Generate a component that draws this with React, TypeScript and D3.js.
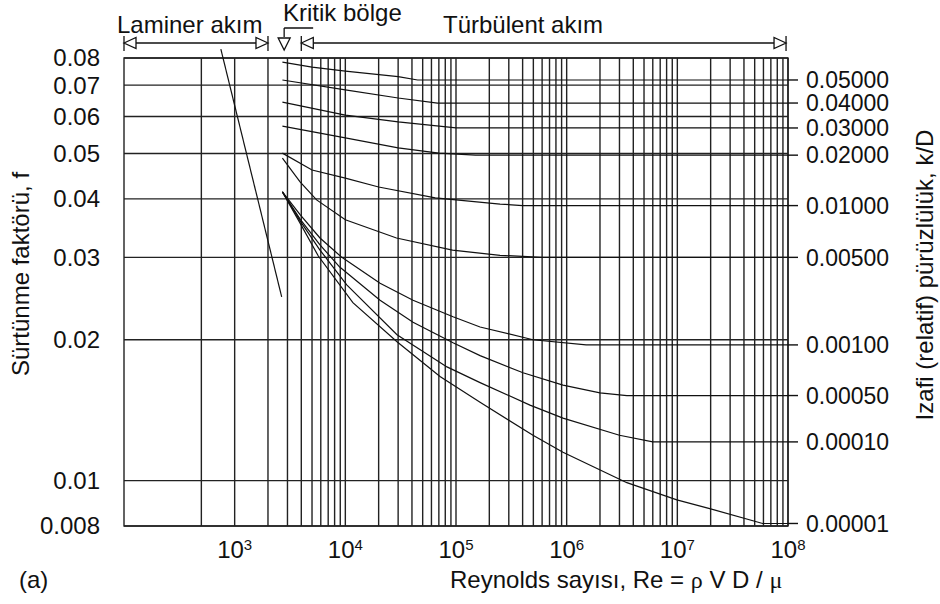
import React from "react";
import * as d3 from "d3";

// friction factor axis (left)
const fTicks = [0.08, 0.07, 0.06, 0.05, 0.04, 0.03, 0.02, 0.01, 0.008];
const fTickLabels = ["0.08", "0.07", "0.06", "0.05", "0.04", "0.03", "0.02", "0.01", "0.008"];
// Reynolds axis, labelled powers of ten
const reExponents = [3, 4, 5, 6, 7, 8];

// relative roughness curves [Re, f]
const kdLabels = ["0.05000", "0.04000", "0.03000", "0.02000", "0.01000", "0.00500", "0.00100", "0.00050", "0.00010", "0.00001"];
const kd05000 = [[2700, 0.0784], [5000, 0.0765], [10000, 0.075], [30000, 0.073], [45000, 0.0718], [1e8, 0.0718]];
const kd04000 = [[2700, 0.0718], [10000, 0.0684], [30000, 0.0657], [68000, 0.0641], [1e8, 0.0641]];
const kd03000 = [[2700, 0.0644], [10000, 0.0604], [30000, 0.0584], [100000, 0.0567], [1e8, 0.0567]];
const kd02000 = [[2700, 0.0572], [10000, 0.054], [30000, 0.0514], [70000, 0.0501], [150000, 0.0496], [1e8, 0.0496]];
const kd01000 = [[2700, 0.0501], [5000, 0.0461], [10000, 0.0443], [20000, 0.0424], [65000, 0.0402], [250000, 0.039], [400000, 0.0387], [1e8, 0.0387]];
const kd00500 = [[2700, 0.0489], [3900, 0.0435], [5500, 0.0398], [10000, 0.0361], [29000, 0.033], [93000, 0.0311], [250000, 0.0303], [600000, 0.03], [1e8, 0.03]];
const kd00100 = [[2700, 0.0414], [3900, 0.037], [5900, 0.033], [9300, 0.03], [20600, 0.0264], [40900, 0.0243], [94000, 0.0224], [165000, 0.0213], [496000, 0.02], [1500000, 0.0195], [1e8, 0.0195]];
const kd00050 = [[2700, 0.0414], [3900, 0.0362], [5900, 0.0319], [8900, 0.0286], [20600, 0.0243], [40900, 0.0218], [94000, 0.0197], [165000, 0.0185], [403000, 0.017], [926000, 0.016], [2000000, 0.0154], [3500000, 0.0152], [1e8, 0.0152]];
const kd00010 = [[2700, 0.0414], [3900, 0.0359], [5900, 0.0311], [10300, 0.0262], [29300, 0.0205], [82900, 0.0175], [165000, 0.0162], [466000, 0.0145], [926000, 0.0136], [3000000, 0.0125], [6000000, 0.0121], [1e8, 0.0121]];
const kd00001 = [[2700, 0.0414], [3900, 0.0355], [5700, 0.0302], [11700, 0.024], [29300, 0.0198], [71700, 0.0167], [165000, 0.0147], [496000, 0.0125], [926000, 0.0115], [3500000, 0.0099], [9900000, 0.0091], [20000000, 0.0087], [59000000, 0.0081], [1e8, 0.0081]];
const roughCurves = [kd05000, kd04000, kd03000, kd02000, kd01000, kd00500, kd00100, kd00050, kd00010, kd00001];

// laminar flow line f = 64/Re, end points
const laminar = [[750, 0.0836], [2660, 0.0247]];

// flow regimes along the top
const laminarRange = [100, 2000];
const criticalRe = 2800;
const turbulentRange = [4000, 9.6e7];

const font = "'Liberation Sans', Arial, sans-serif";
const ink = "#111";

export default function App() {
  const x = d3.scaleLog().domain([100, 1e8]).range([124, 788]);
  const y = d3.scaleLog().domain([0.008, 0.08]).range([526, 58]);
  const line = d3.line<number[]>().x(d => x(d[0])).y(d => y(d[1]));
  const vGrid = x.ticks(10).filter(t => t >= 1000 || t === 500);
  const [x0, x1] = x.range();
  const [yb, yt] = y.range();

  const leftTri = (xt: number, yc: number) => `M${xt},${yc}L${xt + 12},${yc - 5.5}L${xt + 12},${yc + 5.5}Z`;
  const rightTri = (xt: number, yc: number) => `M${xt},${yc}L${xt - 12},${yc - 5.5}L${xt - 12},${yc + 5.5}Z`;

  const bracket = (a: number, b: number, key: string) => {
    const xa = x(a), xb = x(b), yc = 43;
    return (
      <g key={key} stroke={ink} strokeWidth={1.3} fill="white">
        <line x1={xa} x2={xa} y1={36} y2={51} />
        <line x1={xb} x2={xb} y1={36} y2={51} />
        <line x1={xa + 12} x2={xb - 12} y1={yc} y2={yc} />
        <path d={leftTri(xa, yc)} />
        <path d={rightTri(xb, yc)} />
      </g>
    );
  };

  const xc = x(criticalRe);

  return (
    <svg width={940} height={604} style={{ position: "absolute", left: 0, top: 0, background: "white" }} fontFamily={font}>
      {/* grid and frame */}
      <g stroke="#222" strokeWidth={1.4}>
        {vGrid.map(t => <line key={t} x1={x(t)} x2={x(t)} y1={yt} y2={yb} />)}
        {fTicks.map(t => <line key={t} x1={x0} x2={x1} y1={y(t)} y2={y(t)} />)}
        <rect x={x0} y={yt} width={x1 - x0} height={yb - yt} fill="none" />
      </g>

      {/* laminar line */}
      <path d={line(laminar) || ""} fill="none" stroke={ink} strokeWidth={1.2} />

      {/* roughness curves */}
      <g fill="none" stroke={ink} strokeWidth={1.2}>
        {roughCurves.map((c, i) => <path key={i} d={line(c) || ""} />)}
        {roughCurves.map((c, i) => {
          const yy = y(c[c.length - 1][1]);
          return <line key={"t" + i} x1={x1} x2={x1 + 10} y1={yy} y2={yy} strokeWidth={1.4} />;
        })}
      </g>

      {/* left tick labels */}
      <g fontSize={24} fill={ink} textAnchor="end">
        {fTicks.map((t, i) => <text key={t} x={100} y={y(t)} dy="0.35em">{fTickLabels[i]}</text>)}
      </g>

      {/* right roughness labels */}
      <g fontSize={23} fill={ink}>
        {roughCurves.map((c, i) => (
          <text key={i} x={806} y={y(c[c.length - 1][1])} dy="0.36em">{kdLabels[i]}</text>
        ))}
      </g>

      {/* x tick labels */}
      <g fontSize={24} fill={ink} textAnchor="middle">
        {reExponents.map(e => (
          <text key={e} x={x(Math.pow(10, e))} y={558}>10<tspan fontSize={15} dy={-8}>{e}</tspan></text>
        ))}
      </g>

      {/* axis titles */}
      <text x={450} y={588} fontSize={24} fill={ink}>
        Reynolds sayısı, Re = <tspan fontFamily="'Liberation Serif', serif">ρ</tspan> V D / <tspan fontFamily="'Liberation Serif', serif">μ</tspan>
      </text>
      <text transform="translate(29,274) rotate(-90)" fontSize={24} fill={ink} textAnchor="middle">Sürtünme faktörü, f</text>
      <text transform="translate(933,275) rotate(-90)" fontSize={24} fill={ink} textAnchor="middle">Izafi (relatif) pürüzlülük, k/D</text>
      <text x={19} y={588} fontSize={24} fill={ink}>(a)</text>

      {/* flow regimes */}
      {bracket(laminarRange[0], laminarRange[1], "lam")}
      {bracket(turbulentRange[0], turbulentRange[1], "turb")}
      <g stroke={ink} strokeWidth={1.3} fill="white">
        <path d={`M${xc},28L${xc},37M${xc},28L${xc + 29},28`} fill="none" />
        <path d={`M${xc - 6},38L${xc + 6},38L${xc},50Z`} />
      </g>
      <g fontSize={24} fill={ink}>
        <text x={117} y={33}>Laminer akım</text>
        <text x={283} y={21}>Kritik bölge</text>
        <text x={443} y={33}>Türbülent akım</text>
      </g>
    </svg>
  );
}
